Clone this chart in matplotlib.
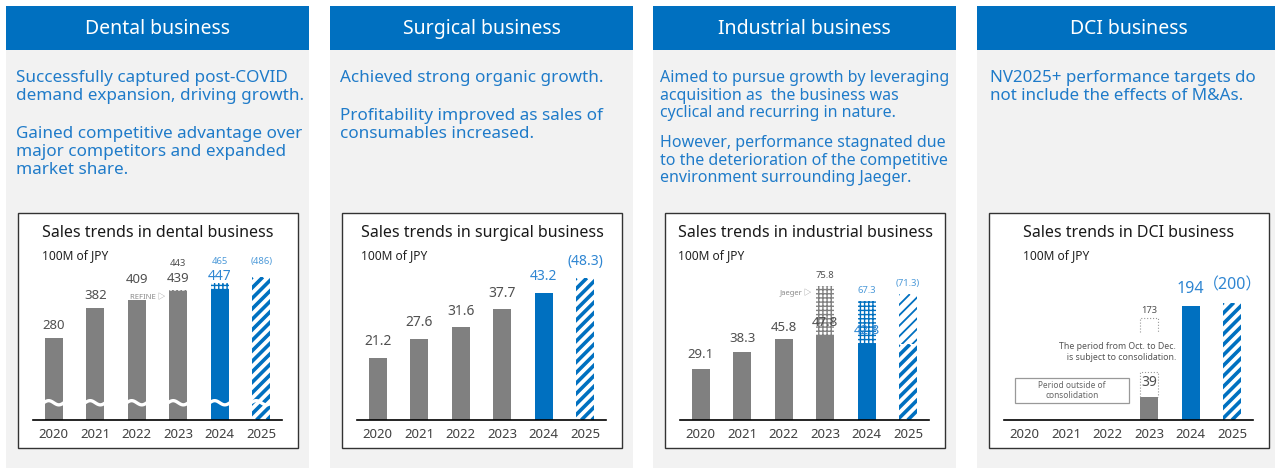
import matplotlib
matplotlib.use("Agg")
import matplotlib.pyplot as plt
import numpy as np
from matplotlib.patches import Rectangle
from matplotlib.collections import LineCollection
from matplotlib.transforms import IdentityTransform, blended_transform_factory

plt.rcParams['font.family'] = ['Noto Sans', 'Noto Sans CJK JP', 'DejaVu Sans']
plt.rcParams['hatch.linewidth'] = 1.0

# data (100M of JPY)
years = ['2020', '2021', '2022', '2023', '2024', '2025']
dental_sales = [280, 382, 409, 439, 447, 486]
dental_2023_refine = 443
dental_2024_total = 465
surgical_sales = [21.2, 27.6, 31.6, 37.7, 43.2, 48.3]
industrial_sales = [29.1, 38.3, 45.8, 47.8, 42.8, 71.3]
industrial_2023_jaeger = 75.8
industrial_2024_total = 67.3
dci_sales = [0, 0, 0, 39, 194, 200]
dci_2023_full = 173

headers = ['Dental business', 'Surgical business', 'Industrial business', 'DCI business']
paragraphs = [
    [['Successfully captured post-COVID', 'demand expansion, driving growth.'],
     ['Gained competitive advantage over', 'major competitors and expanded', 'market share.']],
    [['Achieved strong organic growth.'],
     ['Profitability improved as sales of', 'consumables increased.']],
    [['Aimed to pursue growth by leveraging', 'acquisition as  the business was',
      'cyclical and recurring in nature.'],
     ['However, performance stagnated due', 'to the deterioration of the competitive',
      'environment surrounding Jaeger.']],
    [['NV2025+ performance targets do', 'not include the effects of M&As.']],
]
chart_titles = ['Sales trends in dental business', 'Sales trends in surgical business',
                'Sales trends in industrial business', 'Sales trends in DCI business']

BLUE = '#0070c0'
TXT_BLUE = '#1f7bc9'
LBL_BLUE = '#2f86d2'
SMALL_BLUE = '#4d9ad9'
GRAY = '#808080'
LBL_GRAY = '#505050'
BG = '#f2f2f2'

W, H = 1275, 470
fig = plt.figure(figsize=(W / 100, H / 100), dpi=100)
fig.patch.set_facecolor('white')

lefts = [6, 330, 653, 977]
text_x = [16, 340, 660, 990]
body_size = [12.3, 12.3, 11.5, 12.2]
line_step = [18, 18, 17.5, 18]
para_gap = [20, 20, 12.5, 20]
scales = [0.294, 2.94, 1.765, 0.587]   # px per unit
BW = 0.43


def fx(x):
    return x / W


def fy(y):
    return 1 - y / H


def frect(x0, y0, w, h, **kw):
    fig.patches.append(Rectangle((fx(x0), fy(y0 + h)), w / W, h / H,
                                 transform=fig.transFigure, **kw))


axes = []
for i, L in enumerate(lefts):
    frect(L, 50, 303, 418, facecolor=BG, edgecolor='none', zorder=0)
    frect(L, 6, 303, 44, facecolor=BLUE, edgecolor='none', zorder=1)
    fig.text(fx(L + 151.5), fy(29), headers[i], color='white', fontsize=14,
             ha='center', va='center')
    y = 78
    for p in paragraphs[i]:
        for line in p:
            fig.text(fx(text_x[i]), fy(y), line, color=TXT_BLUE, fontsize=body_size[i],
                     ha='left', va='center')
            y += line_step[i]
        y += para_gap[i]

    bx = L + 12
    frect(bx, 213, 280, 235, facecolor='white', edgecolor='#333333', linewidth=1, zorder=1)
    t = fig.text(fx(bx + 140), fy(233), chart_titles[i], color='#1a1a1a', fontsize=11.5,
                 ha='center', va='center')

    ax = fig.add_axes([fx(L + 27), fy(420), 249 / W, 150 / H])
    ax.set_zorder(2)
    ax.set_facecolor('none')
    ax.set_xlim(-0.5, 5.5)
    ax.set_ylim(0, 150 / scales[i])
    for s in ['top', 'left', 'right']:
        ax.spines[s].set_visible(False)
    ax.spines['bottom'].set_color('black')
    ax.spines['bottom'].set_linewidth(1.2)
    ax.set_yticks([])
    ax.set_xticks(range(len(years)))
    ax.set_xticklabels(years, fontsize=9.5, color='#404040')
    ax.tick_params(axis='x', length=0, pad=6)
    axes.append((t, ax))

fig.canvas.draw()
for t, ax in axes:
    bb = t.get_window_extent()
    fig.text(bb.x0 / W, fy(256), '100M of JPY', fontsize=8.6, color='#222222',
             ha='left', va='center')

ax_d, ax_s, ax_i, ax_c = [a[1] for a in axes]
x = np.arange(len(years))


def put(ax, xv, yv, s, dy, size, color):
    ax.annotate(s, (xv, yv), xytext=(0, dy * 0.72), textcoords='offset points',
                ha='center', va='center', fontsize=size, color=color,
                annotation_clip=False, zorder=6)


striped = []

# dental
ax_d.bar(x[:4], dental_sales[:4], width=BW, color=GRAY, zorder=2)
ax_d.bar(x[4], dental_sales[4], width=BW, color=BLUE, zorder=2)
ax_d.bar(x[3], dental_2023_refine - dental_sales[3], bottom=dental_sales[3], width=BW,
         facecolor='white', edgecolor=GRAY, hatch='++++', linewidth=0, zorder=2)
ax_d.bar(x[4], dental_2024_total - dental_sales[4], bottom=dental_sales[4], width=BW,
         facecolor='white', edgecolor=BLUE, hatch='++++', linewidth=0, zorder=2)
b = ax_d.bar(x[5], dental_sales[5], width=BW, facecolor='white', linewidth=0, zorder=2)
striped.append((ax_d, b[0], 2.6))
for k in range(4):
    put(ax_d, x[k], dental_sales[k], str(dental_sales[k]), 20 if k == 2 else 12, 9.5, LBL_GRAY)
put(ax_d, x[3], dental_2023_refine, str(dental_2023_refine), 26, 6.8, LBL_GRAY)
put(ax_d, x[4], dental_sales[4], str(dental_sales[4]), 12.5, 10, LBL_BLUE)
put(ax_d, x[4], dental_2024_total, str(dental_2024_total), 22, 6.8, SMALL_BLUE)
put(ax_d, x[5], dental_sales[5], '(%d)' % dental_sales[5], 16, 6.8, SMALL_BLUE)
ax_d.annotate('REFINE \u25b7', (x[3] - BW / 2, dental_sales[3]), xytext=(-3, -2),
              textcoords='offset points', ha='right', va='top', fontsize=5.5,
              color='#8a8a8a', zorder=6)
# broken-axis marks
tr = blended_transform_factory(ax_d.transData, ax_d.transAxes)
u = np.linspace(0, 1, 40)
for k in range(6):
    ax_d.plot(x[k] - BW / 2 - 0.03 + u * (BW + 0.06), 0.115 + 0.014 * np.sin(2 * np.pi * u),
              color='white', lw=2.4, transform=tr, zorder=5, solid_capstyle='butt')

# surgical
ax_s.bar(x[:4], surgical_sales[:4], width=BW, color=GRAY, zorder=2)
ax_s.bar(x[4], surgical_sales[4], width=BW, color=BLUE, zorder=2)
b = ax_s.bar(x[5], surgical_sales[5], width=BW, facecolor='white', linewidth=0, zorder=2)
striped.append((ax_s, b[0], 2.6))
for k in range(4):
    put(ax_s, x[k], surgical_sales[k], '%.1f' % surgical_sales[k], 16, 10, LBL_GRAY)
put(ax_s, x[4], surgical_sales[4], '%.1f' % surgical_sales[4], 16, 10, LBL_BLUE)
put(ax_s, x[5], surgical_sales[5], '(%.1f)' % surgical_sales[5], 16, 10, LBL_BLUE)

# industrial
ax_i.bar(x[:4], industrial_sales[:4], width=BW, color=GRAY, zorder=2)
ax_i.bar(x[3], industrial_2023_jaeger - industrial_sales[3], bottom=industrial_sales[3],
         width=BW, facecolor='white', edgecolor=GRAY, hatch='++++', linewidth=0, zorder=2)
ax_i.bar(x[4], industrial_sales[4], width=BW, color=BLUE, zorder=2)
ax_i.bar(x[4], industrial_2024_total - industrial_sales[4], bottom=industrial_sales[4],
         width=BW, facecolor='white', edgecolor=BLUE, hatch='++++', linewidth=0, zorder=2)
b1 = ax_i.bar(x[5], industrial_sales[4], width=BW, facecolor='white', linewidth=0, zorder=2)
b2 = ax_i.bar(x[5], industrial_sales[5] - industrial_sales[4], bottom=industrial_sales[4],
              width=BW, facecolor='white', linewidth=0, zorder=2)
striped.append((ax_i, b1[0], 2.6))
striped.append((ax_i, b2[0], 1.3))
offs = [14, 14, 12, 13]
for k in range(4):
    put(ax_i, x[k], industrial_sales[k], '%.1f' % industrial_sales[k], offs[k], 9.5, LBL_GRAY)
put(ax_i, x[3], industrial_2023_jaeger, '%.1f' % industrial_2023_jaeger, 11, 6.8, LBL_GRAY)
put(ax_i, x[4], industrial_sales[4], '%.1f' % industrial_sales[4], 14, 9.5, LBL_BLUE)
put(ax_i, x[4], industrial_2024_total, '%.1f' % industrial_2024_total, 11, 6.8, SMALL_BLUE)
put(ax_i, x[5], industrial_sales[5], '(%.1f)' % industrial_sales[5], 11, 6.8, SMALL_BLUE)
ax_i.annotate('Jaeger \u25b7', (x[3] - BW / 2, industrial_2023_jaeger), xytext=(-3, -2),
              textcoords='offset points', ha='right', va='top', fontsize=5.5,
              color='#8a8a8a', zorder=6)

# DCI
ax_c.bar(x[3], dci_sales[3], width=BW, color=GRAY, zorder=2)
ax_c.bar(x[4], dci_sales[4], width=BW, color=BLUE, zorder=2)
b = ax_c.bar(x[5], dci_sales[5], width=BW, facecolor='white', linewidth=0, zorder=2)
striped.append((ax_c, b[0], 2.6))
gap_lo, gap_hi = 82, 150
xl, xr = x[3] - BW / 2, x[3] + BW / 2
for lo, hi in [(dci_sales[3], gap_lo), (gap_hi, dci_2023_full)]:
    ax_c.plot([xl, xl, xr, xr], [lo, hi, hi, lo], ls=':', color='#999999', lw=0.8, zorder=3)
put(ax_c, x[3], dci_sales[3], str(dci_sales[3]), 15, 10, LBL_GRAY)
put(ax_c, x[3], dci_2023_full, str(dci_2023_full), 8, 6.8, LBL_GRAY)
put(ax_c, x[4], dci_sales[4], str(dci_sales[4]), 17, 11.5, LBL_BLUE)
put(ax_c, x[5], dci_sales[5], '\uff08%d\uff09' % dci_sales[5], 17, 11.5, LBL_BLUE)
ax_c.text(x[3] + 0.65, (gap_lo + gap_hi) / 2,
          'The period from Oct. to Dec.\n   is subject to consolidation.',
          ha='right', va='center', fontsize=6.3, color='#555555', linespacing=1.2, zorder=6)
ax_c.add_patch(Rectangle((-0.24, 29), 2.74, 43, facecolor='white', edgecolor='#999999',
                         lw=0.9, zorder=3))
ax_c.text(1.13, 50.5, 'Period outside of\nconsolidation', ha='center', va='center',
          fontsize=6, color='#666666', linespacing=1.1, zorder=4)

# diagonal stripes for forecast bars
fig.canvas.draw()
period = 10.5
for ax, bar, lw in striped:
    bb = bar.get_window_extent()
    h = bb.y1 - bb.y0
    segs = [[(t0, bb.y0), (t0 + h, bb.y1)]
            for t0 in np.arange(bb.x0 - h - period, bb.x1 + period, period)]
    lc = LineCollection(segs, colors=BLUE, linewidths=lw, transform=IdentityTransform(),
                        zorder=2.5)
    ax.add_collection(lc, autolim=False)
    lc.set_clip_path(bar)

fig.savefig('out.png', dpi=100)
